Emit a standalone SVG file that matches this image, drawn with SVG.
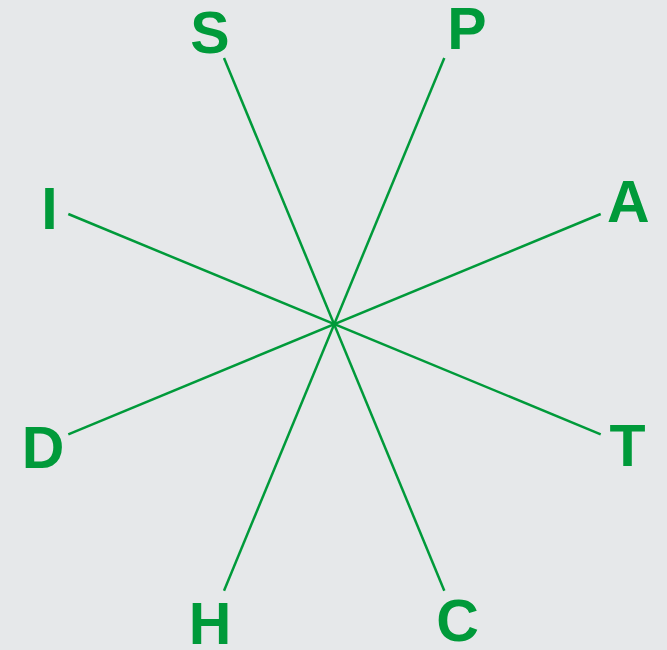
<svg xmlns="http://www.w3.org/2000/svg" width="667" height="650" viewBox="0 0 667 650">
<style>
.bg{fill:#e6e8ea}
.ln{stroke:#009a3a;stroke-width:2.5;fill:none;stroke-linecap:butt}
.lb{font-family:"Liberation Sans",Arial,sans-serif;font-weight:bold;font-size:59px;fill:#009a3a;text-anchor:middle}
</style>
<rect class="bg" x="0" y="0" width="667" height="650"/>
<g id="connectors">
<line class="ln" x1="224" y1="58" x2="444.3" y2="590.7"/>
<line class="ln" x1="444.3" y1="58" x2="224" y2="590.7"/>
<line class="ln" x1="68.3" y1="214" x2="600.7" y2="434.3"/>
<line class="ln" x1="600.7" y1="214" x2="68.3" y2="434.3"/>
</g>
<g id="node-S"><text class="lb" x="210" y="52.5">S</text></g>
<g id="node-P"><text class="lb" x="467" y="49">P</text></g>
<g id="node-I"><text class="lb" x="49.5" y="228.7">I</text></g>
<g id="node-A"><text class="lb" x="628.3" y="222.3">A</text></g>
<g id="node-D"><text class="lb" x="43" y="468.3">D</text></g>
<g id="node-T"><text class="lb" x="627.5" y="465.7">T</text></g>
<g id="node-H"><text class="lb" x="210" y="644">H</text></g>
<g id="node-C"><text class="lb" x="457.5" y="641">C</text></g>
</svg>
